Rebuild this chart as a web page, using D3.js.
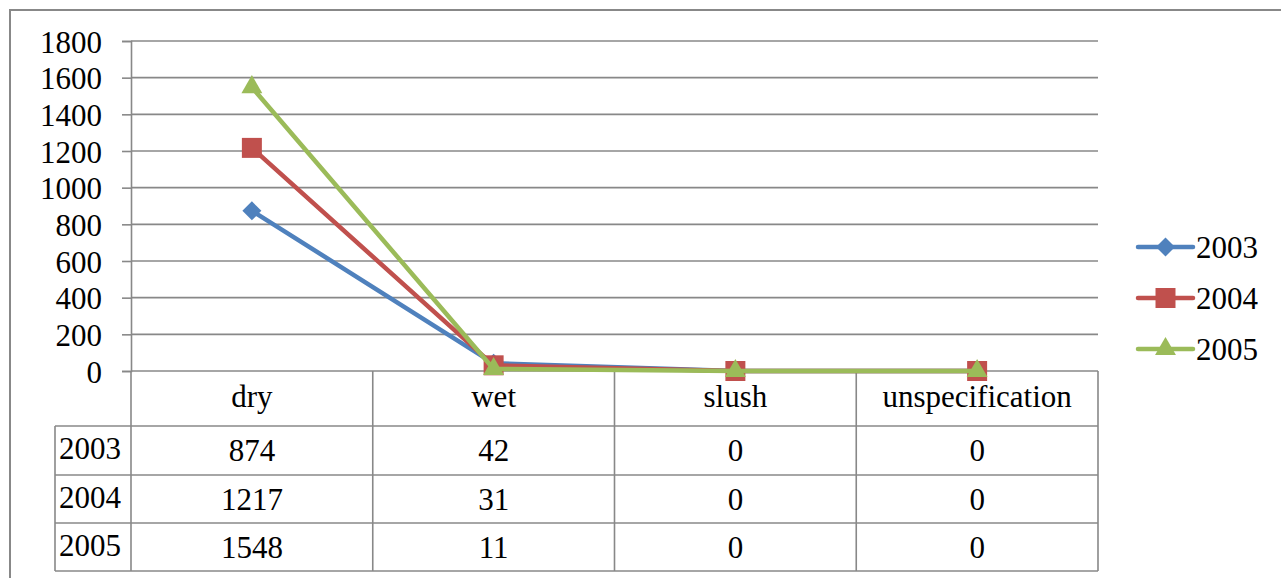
<!DOCTYPE html>
<html>
<head>
<meta charset="utf-8">
<script src="https://cdn.jsdelivr.net/npm/d3@7"></script>
</head>
<body style="margin:0;background:#fff">
<svg id="chart" width="1281" height="578" style="display:block;font-family:'Liberation Serif',Tinos,'Times New Roman',serif"></svg>
<script>
// Road surface condition counts per year
const categories = ["dry", "wet", "slush", "unspecification"];
const years = ["2003", "2004", "2005"];
const values2003 = [874, 42, 0, 0];
const values2004 = [1217, 31, 0, 0];
const values2005 = [1548, 11, 0, 0];
const yTicks = [0, 200, 400, 600, 800, 1000, 1200, 1400, 1600, 1800];

const seriesValues = [values2003, values2004, values2005];
const colors = ["#4F81BD", "#C0504D", "#9BBB59"];

// square diamond (equal width and height)
const symbolRhombus = {
  draw(ctx, size) {
    const r = Math.sqrt(size / 2);
    ctx.moveTo(0, -r); ctx.lineTo(r, 0); ctx.lineTo(0, r); ctx.lineTo(-r, 0); ctx.closePath();
  }
};
const symbols = [symbolRhombus, d3.symbolSquare, d3.symbolTriangle];
const symbolSizes = [180, 400, 190];

const svg = d3.select("#chart");
const gridColor = "#888888";
const styleText = sel => sel
  .attr("font-family", "Liberation Serif")
  .style("font-family", "Liberation Serif")
  .style("font-size", "31px")
  .style("fill", "#000");

// outer chart frame
svg.append("rect")
  .attr("x", 10).attr("y", 10)
  .attr("width", 1290).attr("height", 600)
  .attr("fill", "none").attr("stroke", gridColor).attr("stroke-width", 2);

const plot = { left: 131, right: 1098, top: 41, bottom: 371 };

const x = d3.scaleBand().domain(categories).range([plot.left, plot.right]).padding(0);
const xc = c => x(c) + x.bandwidth() / 2;
const y = d3.scaleLinear().domain([0, 1800]).range([plot.bottom, plot.top]);

// horizontal gridlines
svg.append("g")
  .selectAll("line")
  .data(yTicks)
  .join("line")
  .attr("x1", plot.left).attr("x2", plot.right)
  .attr("y1", d => y(d)).attr("y2", d => y(d))
  .attr("stroke", gridColor).attr("stroke-width", 1.6);

// value axis
const yAxis = svg.append("g")
  .attr("transform", `translate(${plot.left},0)`)
  .call(d3.axisLeft(y).tickValues(yTicks).tickSize(9).tickPadding(20).tickFormat(d3.format("d")))
  .attr("font-family", null)
  .attr("font-size", null);
yAxis.select(".domain").attr("stroke", gridColor).attr("stroke-width", 1.6);
yAxis.selectAll(".tick line").attr("stroke", gridColor).attr("stroke-width", 1.6);
yAxis.selectAll(".tick text")
  .call(styleText)
  .attr("dy", null)
  .attr("y", 11);

// data table under the plot
const table = {
  labelLeft: 55,
  rowBounds: [426, 475, 523, 571]
};
const tg = svg.append("g").attr("stroke", gridColor).attr("stroke-width", 1.6);
const colEdges = categories.map(c => x(c)).concat([plot.right]);
// column separators through header and rows
colEdges.forEach(cx => {
  tg.append("line").attr("x1", cx).attr("x2", cx)
    .attr("y1", plot.bottom).attr("y2", table.rowBounds[3]);
});
// row label column left edge
tg.append("line").attr("x1", table.labelLeft).attr("x2", table.labelLeft)
  .attr("y1", table.rowBounds[0]).attr("y2", table.rowBounds[3]);
// horizontal row lines
table.rowBounds.forEach(ry => {
  tg.append("line").attr("x1", table.labelLeft).attr("x2", plot.right)
    .attr("y1", ry).attr("y2", ry);
});

// category headers
svg.append("g")
  .selectAll("text")
  .data(categories)
  .join("text")
  .attr("x", d => xc(d))
  .attr("y", 407)
  .attr("text-anchor", "middle")
  .call(styleText)
  .text(d => d);

// table rows
years.forEach((yr, i) => {
  const top = table.rowBounds[i], bot = table.rowBounds[i + 1];
  const mid = (top + bot) / 2;
  svg.append("text")
    .attr("x", 59).attr("y", mid + 8.5)
    .call(styleText)
    .text(yr);
  svg.append("g")
    .selectAll("text")
    .data(categories.map((c, j) => ({ c, v: seriesValues[i][j] })))
    .join("text")
    .attr("x", d => xc(d.c))
    .attr("y", mid + 10.5)
    .attr("text-anchor", "middle")
    .call(styleText)
    .text(d => d.v);
});

// series lines and markers
const line = d3.line().x(d => xc(d.c)).y(d => y(d.v));
years.forEach((yr, i) => {
  const pts = categories.map((c, j) => ({ c, v: seriesValues[i][j] }));
  const g = svg.append("g");
  g.append("path")
    .datum(pts)
    .attr("d", line)
    .attr("fill", "none")
    .attr("stroke", colors[i])
    .attr("stroke-width", 4.5)
    .attr("stroke-linejoin", "round");
  g.selectAll("path.marker")
    .data(pts)
    .join("path")
    .attr("class", "marker")
    .attr("transform", d => `translate(${xc(d.c)},${y(d.v)})`)
    .attr("d", d3.symbol().type(symbols[i]).size(symbolSizes[i]))
    .attr("fill", colors[i]);
});

// legend
const legendY = [247, 298, 349];
years.forEach((yr, i) => {
  const g = svg.append("g").attr("transform", `translate(0,${legendY[i]})`);
  g.append("line")
    .attr("x1", 1138).attr("x2", 1193)
    .attr("y1", 0).attr("y2", 0)
    .attr("stroke", colors[i]).attr("stroke-width", 4.5)
    .attr("stroke-linecap", "round");
  g.append("path")
    .attr("transform", "translate(1165.5,0)")
    .attr("d", d3.symbol().type(symbols[i]).size(symbolSizes[i]))
    .attr("fill", colors[i]);
  g.append("text")
    .attr("x", 1196).attr("y", 11)
    .call(styleText)
    .text(yr);
});
</script>
</body>
</html>
